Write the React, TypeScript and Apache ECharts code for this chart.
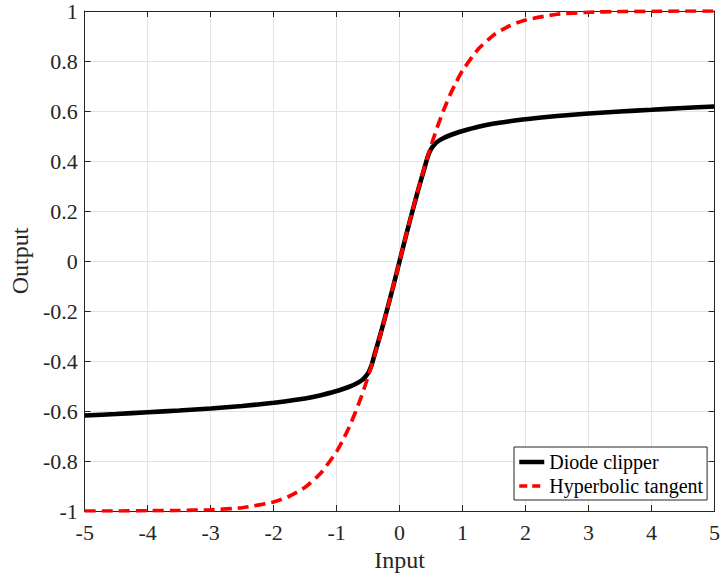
import React, { useEffect, useRef } from "react";
import * as echarts from "echarts";

const inputX = [
  -5, -4.5, -4, -3.5, -3, -2.5, -2, -1.75, -1.5, -1.25, -1, -0.9, -0.8, -0.7, -0.6, -0.55, -0.5, -0.45, -0.4, -0.3, -0.2, -0.1,
  0, 0.1, 0.2, 0.3, 0.4, 0.45, 0.5, 0.55, 0.6, 0.7, 0.8, 0.9, 1, 1.25, 1.5, 1.75, 2, 2.5, 3, 3.5, 4, 4.5, 5,
];
const diodeClipper = [
  -0.618, -0.612, -0.605, -0.598, -0.59, -0.58, -0.567, -0.559, -0.55, -0.537, -0.52, -0.512, -0.503, -0.492, -0.477, -0.465,
  -0.448, -0.42, -0.376, -0.289, -0.196, -0.1, 0, 0.1, 0.196, 0.289, 0.376, 0.42, 0.448, 0.465, 0.477, 0.492, 0.503, 0.512,
  0.52, 0.537, 0.55, 0.559, 0.567, 0.58, 0.59, 0.598, 0.605, 0.612, 0.618,
];
const hyperbolicTangent = [
  -1.0, -1.0, -0.999, -0.998, -0.995, -0.987, -0.964, -0.941, -0.905, -0.848, -0.762, -0.716, -0.664, -0.604, -0.537, -0.5,
  -0.462, -0.422, -0.38, -0.291, -0.197, -0.1, 0, 0.1, 0.197, 0.291, 0.38, 0.422, 0.462, 0.5, 0.537, 0.604, 0.664, 0.716,
  0.762, 0.848, 0.905, 0.941, 0.964, 0.987, 0.995, 0.998, 0.999, 1.0, 1.0,
];
const seriesNames = ["Diode clipper", "Hyperbolic tangent"];

const FONT = "'Liberation Serif', 'Times New Roman', serif";
const AX = "#262626";
const GRIDC = "#e3e3e3";

export default function App() {
  const ref = useRef<HTMLDivElement>(null);
  useEffect(() => {
    if (!ref.current) return;
    const chart = echarts.init(ref.current, null, { renderer: "svg" });
    const pair = (ys: number[]) => inputX.map((x, i) => [x, ys[i]]);
    const axisCommon = {
      type: "value" as const,
      axisLine: { show: true, onZero: false, lineStyle: { color: AX, width: 1 } },
      axisTick: { show: true, inside: true, length: 6, lineStyle: { color: AX } },
    };
    chart.setOption({
      animation: false,
      backgroundColor: "#ffffff",
      textStyle: { fontFamily: FONT },
      grid: { left: 82, right: 6, top: 10, bottom: 67, containLabel: false },
      xAxis: [
        {
          ...axisCommon,
          position: "bottom",
          min: -5,
          max: 5,
          interval: 1,
          name: "Input",
          nameLocation: "middle",
          nameGap: 36,
          nameTextStyle: { fontFamily: FONT, fontSize: 24, color: AX },
          axisLabel: { fontFamily: FONT, fontSize: 22, color: AX, margin: 10 },
          splitLine: { show: true, lineStyle: { color: GRIDC, width: 1 } },
        },
        {
          ...axisCommon,
          position: "top",
          min: -5,
          max: 5,
          interval: 1,
          axisLabel: { show: false },
          splitLine: { show: false },
        },
      ],
      yAxis: [
        {
          ...axisCommon,
          position: "left",
          min: -1,
          max: 1,
          interval: 0.2,
          name: "Output",
          nameLocation: "middle",
          nameGap: 52,
          nameTextStyle: { fontFamily: FONT, fontSize: 24, color: AX },
          axisLabel: {
            fontFamily: FONT,
            fontSize: 22,
            color: AX,
            margin: 7,
            formatter: (v: number) => String(Math.round(v * 10) / 10),
          },
          splitLine: { show: true, lineStyle: { color: GRIDC, width: 1 } },
        },
        {
          ...axisCommon,
          position: "right",
          min: -1,
          max: 1,
          interval: 0.2,
          axisLabel: { show: false },
          splitLine: { show: false },
        },
      ],
      legend: {
        show: true,
        orient: "vertical",
        left: 514,
        top: 447,
        padding: [5, 4, 4, 3],
        itemGap: 4,
        itemWidth: 25,
        itemHeight: 14,
        backgroundColor: "#ffffff",
        borderColor: AX,
        borderWidth: 1,
        borderRadius: 0,
        itemStyle: { opacity: 0 },
        textStyle: { fontFamily: FONT, fontSize: 20, color: "#000" },
        data: [
          { name: seriesNames[0], lineStyle: { width: 4.5 } },
          { name: seriesNames[1], lineStyle: { width: 3.5, type: [8, 5] } },
        ],
      },
      series: [
        {
          name: seriesNames[0],
          type: "line",
          data: pair(diodeClipper),
          showSymbol: false,
          symbol: "none",
          smooth: 0.25,
          lineStyle: { color: "#000000", width: 4.6 },
          itemStyle: { color: "#000000" },
          z: 2,
        },
        {
          name: seriesNames[1],
          type: "line",
          data: pair(hyperbolicTangent),
          showSymbol: false,
          symbol: "none",
          smooth: 0.2,
          lineStyle: { color: "#ff0000", width: 3.7, type: [11, 6] },
          itemStyle: { color: "#ff0000" },
          z: 3,
        },
      ],
    });
    return () => chart.dispose();
  }, []);
  return <div ref={ref} style={{ position: "fixed", left: 0, top: 0, width: 723, height: 578 }} />;
}
